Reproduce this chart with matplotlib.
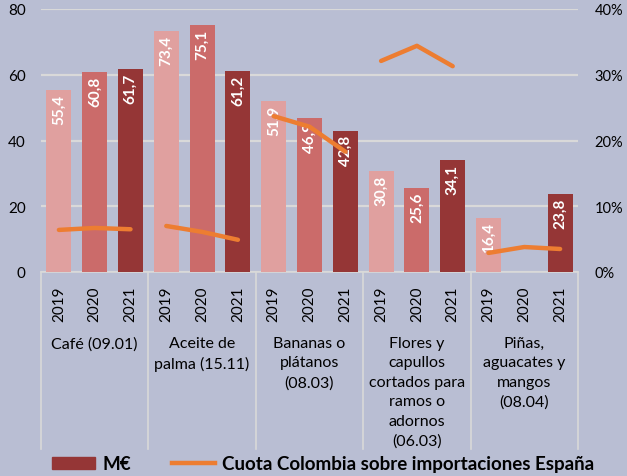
import matplotlib
matplotlib.use("Agg")
import matplotlib.pyplot as plt
import matplotlib.transforms as mtransforms
from matplotlib.ticker import FuncFormatter
from matplotlib.patches import Patch
from matplotlib.lines import Line2D

plt.rcParams['font.family'] = ['Lato', 'DejaVu Sans']

categories = ["Café (09.01)", "Aceite de\npalma (15.11)", "Bananas o\nplátanos\n(08.03)",
              "Flores y\ncapullos\ncortados para\nramos o\nadornos\n(06.03)",
              "Piñas,\naguacates y\nmangos\n(08.04)"]
years = ["2019", "2020", "2021"]
meur = [[55.4, 60.8, 61.7],
        [73.4, 75.1, 61.2],
        [51.9, 46.9, 42.8],
        [30.8, 25.6, 34.1],
        [16.4, None, 23.8]]
cuota = [[6.4, 6.7, 6.5],
         [7.0, 6.1, 4.9],
         [23.7, 22.1, 18.3],
         [32.1, 34.4, 31.3],
         [2.9, 3.8, 3.5]]
left_ticks = [0, 20, 40, 60, 80]
right_ticks = [0, 10, 20, 30, 40]

bg = "#B9BED3"
year_colors = ["#E0A09F", "#CB6B6A", "#953636"]
orange = "#ED7D31"
grid_c = "#D9D9D9"

W, H = 627, 477
fig = plt.figure(figsize=(W/100, H/100), dpi=100, facecolor=bg)
x0, x1, y_top, y_bot = 41, 578, 10, 273
ax = fig.add_axes([x0/W, 1 - y_bot/H, (x1-x0)/W, (y_bot-y_top)/H])
ax.set_facecolor(bg)
ax2 = ax.twinx()

n = len(years)
xs_all = []
for g, vals in enumerate(meur):
    for i, v in enumerate(vals):
        x = g*n + i
        xs_all.append(x)
        if v is None:
            continue
        ax.bar(x, v, width=0.7, color=year_colors[i], zorder=3)
        ax.text(x, v - 1.2, f"{v:.1f}".replace(".", ","), rotation=90, ha="center", va="top",
                color="white", fontsize=11, fontweight="bold", zorder=4)

for g, vals in enumerate(cuota):
    xs = [g*n + i for i in range(n)]
    ax2.plot(xs, [v/100 for v in vals], color=orange, lw=3.2, solid_capstyle="round", zorder=5)

ax.set_xlim(-0.5, len(categories)*n - 0.5)
ax.set_ylim(0, 80)
ax2.set_ylim(0, 0.4)
ax.set_yticks(left_ticks)
ax2.set_yticks([t/100 for t in right_ticks])
ax2.yaxis.set_major_formatter(FuncFormatter(lambda v, p: f"{v*100:.0f}%"))
ax.yaxis.grid(True, color=grid_c, lw=1.6, zorder=0)
ax.set_axisbelow(True)
for a in (ax, ax2):
    for s in a.spines.values():
        s.set_visible(False)
ax.spines["bottom"].set_visible(True)
ax.spines["bottom"].set_color(grid_c)
ax.spines["bottom"].set_linewidth(1.2)
ax.tick_params(axis="y", length=0, pad=11, labelsize=11)
ax2.tick_params(axis="y", length=0, pad=12, labelsize=10.5)
for lab in ax2.get_yticklabels():
    lab.set_ha("left")

ax.set_xticks(xs_all)
ax.set_xticklabels(years*len(categories), rotation=90, fontsize=11)
ax.tick_params(axis="x", length=0, pad=10)
for lab in ax.get_xticklabels():
    lab.set_va("top")

trans = mtransforms.blended_transform_factory(ax.transData, ax.transAxes)
sep_bottom = -(450 - y_bot) / (y_bot - y_top)
for g in range(len(categories) + 1):
    xb = g*n - 0.5
    ax.plot([xb, xb], [0, sep_bottom], transform=trans, color=grid_c, lw=1.2, clip_on=False)
lab_top = -(337 - y_bot) / (y_bot - y_top)
for g, c in enumerate(categories):
    ax.text(g*n + 1, lab_top, c, transform=trans, ha="center", va="top", fontsize=11.5,
            linespacing=1.5)

handles = [Patch(color=year_colors[2]), Line2D([0], [0], color=orange, lw=3.2)]
fig.legend(handles, ["M€", "Cuota Colombia sobre importaciones España"], loc="center",
           bbox_to_anchor=(323/W, 1 - 465/H), ncol=2, frameon=False,
           prop={"weight": "bold", "size": 13.5}, handlelength=2.3, columnspacing=2.2,
           handletextpad=0.35, handleheight=0.6)

fig.savefig("out.png", dpi=100, facecolor=bg)
